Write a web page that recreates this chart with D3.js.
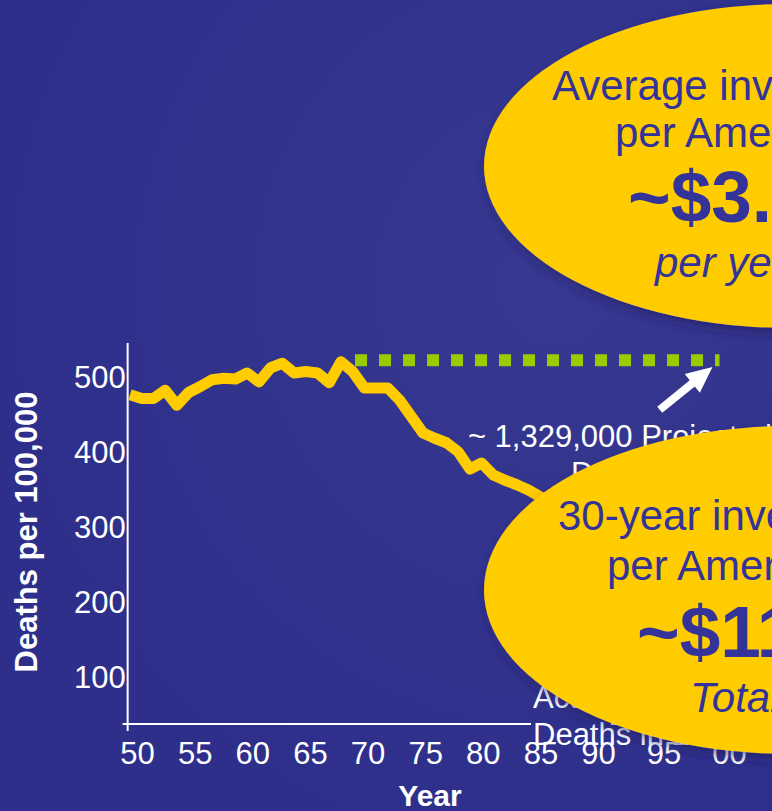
<!DOCTYPE html>
<html>
<head>
<meta charset="utf-8">
<script src="https://d3js.org/d3.v7.min.js"></script>
<style>
  body { margin: 0; background: #2e2f8b; overflow: hidden; }
  svg { display: block; font-family: Arial, "Liberation Sans", sans-serif; }
</style>
</head>
<body>
<div id="chart"></div>
<script>
// yearly death rate (per 100,000)
const years = d3.range(1950, 2000);
const deaths = [477, 472, 472, 483, 463, 480, 488, 497, 499, 498,
                506, 494, 513, 519, 506, 508, 506, 493, 521, 508,
                486, 486, 486, 470, 448, 426, 419, 413, 401, 378,
                386, 370, 363, 357, 350, 341, 334, 327, 318, 311,
                303, 297, 290, 288, 282, 276, 271, 266, 261, 257];

// projected (no decline) level
const projYears = [1969.2, 2000.3];
const projValues = [523, 523];

const yTicks = [100, 200, 300, 400, 500];
const xTickYears = [1950, 1955, 1960, 1965, 1970, 1975, 1980, 1985, 1990, 1995, 2000];
const xTickLabels = ["50", "55", "60", "65", "70", "75", "80", "85", "90", "95", "00"];

const arrowFrom = [1995.2, 457];
const arrowTo = [1999.7, 514];

const topBubble = ["Average investment", "per American", "~$3.60", "per year"];
const bottomBubble = ["30-year investment", "per American", "~$110", "Total"];

const W = 772, H = 811;
const svg = d3.select("#chart").append("svg")
  .attr("width", W).attr("height", H);

const defs = svg.append("defs");
const grad = defs.append("radialGradient").attr("id", "bg")
  .attr("cx", "72%").attr("cy", "35%").attr("r", "70%");
grad.append("stop").attr("offset", "0%").attr("stop-color", "#37388f");
grad.append("stop").attr("offset", "100%").attr("stop-color", "#2e2f8b");
const shadow = defs.append("filter").attr("id", "shadow")
  .attr("x", "-20%").attr("y", "-20%").attr("width", "140%").attr("height", "140%");
shadow.append("feDropShadow").attr("dx", 3).attr("dy", 5).attr("stdDeviation", 6)
  .attr("flood-color", "#1c1d60").attr("flood-opacity", 0.6);

svg.append("rect").attr("width", W).attr("height", H).attr("fill", "url(#bg)");

// scales
const x = d3.scaleLinear().domain([1950, 2000]).range([130, 716]);
// the year labels on the slide are not evenly spaced at the end
const xLab = d3.scaleLinear().domain([1950, 1990, 2000]).range([137, 598, 729]);
const y = d3.scaleLinear().domain([38, 546]).range([724, 343]);

// axes lines
const axisG = svg.append("g").attr("stroke", "white").attr("stroke-width", 2);
axisG.append("line")
  .attr("x1", x(1949.8)).attr("x2", x(1949.8))
  .attr("y1", y(546)).attr("y2", y(38) + 7);
axisG.append("line")
  .attr("x1", x(1949.8) - 5).attr("x2", x(2000))
  .attr("y1", y(38)).attr("y2", y(38));

// y tick labels
svg.append("g")
  .attr("transform", `translate(${x(1949.8) - 2},0)`)
  .call(d3.axisLeft(y).tickValues(yTicks).tickSize(0).tickPadding(0))
  .call(g => g.select(".domain").remove())
  .selectAll("text")
    .attr("fill", "white")
    .style("font-size", "31px")
    .style("font-family", "Arial, 'Liberation Sans', sans-serif");

// x tick labels
svg.append("g")
  .attr("transform", `translate(0,${y(38)})`)
  .call(d3.axisBottom(xLab).tickValues(xTickYears).tickSize(0)
    .tickFormat(d => xTickLabels[xTickYears.indexOf(d)]))
  .call(g => g.select(".domain").remove())
  .selectAll("text")
    .attr("y", 40).attr("dy", null)
    .attr("fill", "white")
    .style("font-size", "31px")
    .style("font-family", "Arial, 'Liberation Sans', sans-serif");

// axis titles
svg.append("text")
  .attr("transform", `translate(37,${(388 + 676) / 2}) rotate(-90)`)
  .attr("text-anchor", "middle")
  .attr("fill", "white")
  .style("font-size", "31px").style("font-weight", "bold")
  .text("Deaths per 100,000");
svg.append("text")
  .attr("x", 430).attr("y", 806)
  .attr("text-anchor", "middle")
  .attr("fill", "white")
  .style("font-size", "30px").style("font-weight", "bold")
  .text("Year");

// actual deaths line
const line = d3.line().x((d, i) => x(years[i])).y(d => y(d));
svg.append("path")
  .datum(deaths)
  .attr("d", line)
  .attr("fill", "none")
  .attr("stroke", "#ffcc00")
  .attr("stroke-width", 11)
  .attr("stroke-linejoin", "round");

// projected line
svg.append("path")
  .datum(projValues)
  .attr("d", d3.line().x((d, i) => x(projYears[i])).y(d => y(d)))
  .attr("fill", "none")
  .attr("stroke", "#99cc00")
  .attr("stroke-width", 12)
  .attr("stroke-dasharray", "12,12");

// arrow
const ax0 = x(arrowFrom[0]), ay0 = y(arrowFrom[1]);
const ax1 = x(arrowTo[0]), ay1 = y(arrowTo[1]);
const ang = Math.atan2(ay1 - ay0, ax1 - ax0);
const headLen = 26, headHalf = 12;
const bx = ax1 - headLen * Math.cos(ang), by = ay1 - headLen * Math.sin(ang);
svg.append("line")
  .attr("x1", ax0).attr("y1", ay0).attr("x2", bx + 2 * Math.cos(ang)).attr("y2", by + 2 * Math.sin(ang))
  .attr("stroke", "white").attr("stroke-width", 8);
svg.append("polygon")
  .attr("points", [
    [ax1, ay1],
    [bx + headHalf * Math.sin(ang), by - headHalf * Math.cos(ang)],
    [bx - headHalf * Math.sin(ang), by + headHalf * Math.cos(ang)]
  ].map(p => p.join(",")).join(" "))
  .attr("fill", "white");

// annotations
const proj = svg.append("text").attr("fill", "white").style("font-size", "31px")
  .attr("text-anchor", "middle");
proj.append("tspan").attr("x", 620).attr("y", 447).text("~ 1,329,000 Projected");
proj.append("tspan").attr("x", 620).attr("y", 484).text("Deaths");

// text box fill hides the end of the x axis
svg.append("rect").attr("x", 531).attr("y", 718).attr("width", 80).attr("height", 11)
  .attr("fill", "#2f308b");
const act = svg.append("text").attr("fill", "white").style("font-size", "31px");
act.append("tspan").attr("x", 533).attr("y", 708).text("Actual");
act.append("tspan").attr("x", 533).attr("y", 745).text("Deaths in 2000");

// bubbles
function bubble(cx, cy, rx, ry, lines, xs, ys) {
  const g = svg.append("g");
  g.append("ellipse")
    .attr("cx", cx).attr("cy", cy).attr("rx", rx).attr("ry", ry)
    .attr("fill", "#ffcc00")
    .attr("filter", "url(#shadow)");
  lines.forEach((t, i) => {
    g.append("text")
      .attr("x", xs[i]).attr("y", ys[i])
      .attr("fill", "#333399")
      .style("font-size", i === 2 ? "73px" : "42px")
      .style("font-weight", i === 2 ? "bold" : "normal")
      .style("font-style", i === 3 ? "italic" : "normal")
      .text(t);
  });
}
bubble(790, 166, 306, 162, topBubble, [552, 615, 628, 655], [100, 147, 222, 277]);
bubble(790, 590, 306, 164, bottomBubble, [558, 607, 637, 690], [530, 580, 657, 712]);
</script>
</body>
</html>
